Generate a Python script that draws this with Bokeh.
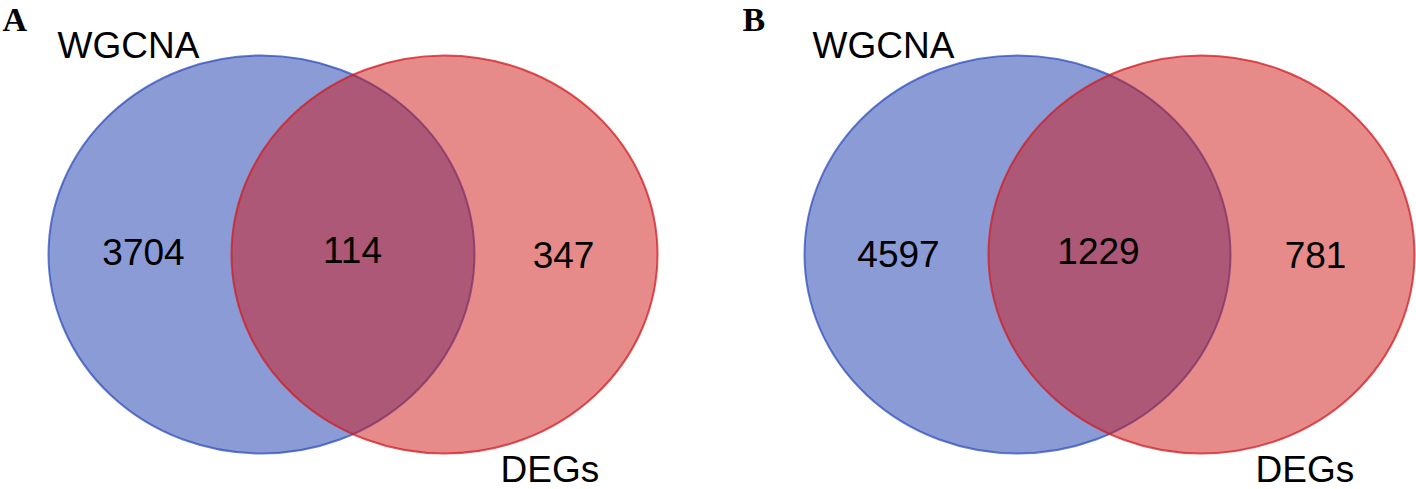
from bokeh.plotting import figure
from bokeh.models import Range1d
from bokeh.core.properties import value
from bokeh.embed import file_html
from bokeh.resources import INLINE

# ---- data ----
panels = ["A", "B"]
set_names = ["WGCNA", "DEGs"]
only_wgcna = [3704, 4597]
overlap = [114, 1229]
only_degs = [347, 781]

# ---- layout (picture pixel coordinates) ----
W, H = 1416, 489
p = figure(width=W, height=H, output_backend="svg", toolbar_location=None,
           x_range=Range1d(0, W), y_range=Range1d(H, 0),
           min_border=0, min_border_left=0, min_border_right=0,
           min_border_top=0, min_border_bottom=0)
p.axis.visible = False
p.xgrid.visible = False
p.ygrid.visible = False
p.outline_line_color = None
p.background_fill_color = "white"
p.border_fill_color = "white"

blue_cx = [261, 1017]
red_cx = [444, 1201]
cy = 254
rx, ry = 213, 199

p.ellipse(x=blue_cx, y=[cy, cy], width=[2 * rx] * 2, height=[2 * ry] * 2,
          fill_color="#1537AD", fill_alpha=0.5,
          line_color="#2646B8", line_alpha=0.7, line_width=2)
p.ellipse(x=red_cx, y=[cy, cy], width=[2 * rx] * 2, height=[2 * ry] * 2,
          fill_color="#CD1515", fill_alpha=0.5,
          line_color="#D21C22", line_alpha=0.75, line_width=2)

font = value("Liberation Sans")
dy = -14  # baseline correction

# numbers
num_x = [143, 352, 563, 898, 1098, 1315]
num_y = [265 + dy, 263 + dy, 268 + dy, 267 + dy, 264 + dy, 268 + dy]
num_txt = [str(only_wgcna[0]), str(overlap[0]), str(only_degs[0]),
           str(only_wgcna[1]), str(overlap[1]), str(only_degs[1])]
p.text(x=num_x, y=num_y, text=num_txt, text_font=font, text_font_size="37px",
       text_align="center", text_baseline="alphabetic", text_color="black")

# set labels
p.text(x=[57, 812], y=[59 + dy, 59 + dy], text=[set_names[0]] * 2, text_font=font,
       text_font_size="37px", text_align="left", text_baseline="alphabetic",
       text_color="black")
p.text(x=[500, 1255], y=[483 + dy, 483 + dy], text=[set_names[1]] * 2, text_font=font,
       text_font_size="37px", text_align="left", text_baseline="alphabetic",
       text_color="black")

# panel letters
p.text(x=[2, 742], y=[33 + dy, 33 + dy], text=panels, text_font=value("Liberation Serif"),
       text_font_size="34px", text_font_style="bold", text_align="left",
       text_baseline="alphabetic", text_color="black")

open("out.html", "w").write(file_html(p, INLINE))
